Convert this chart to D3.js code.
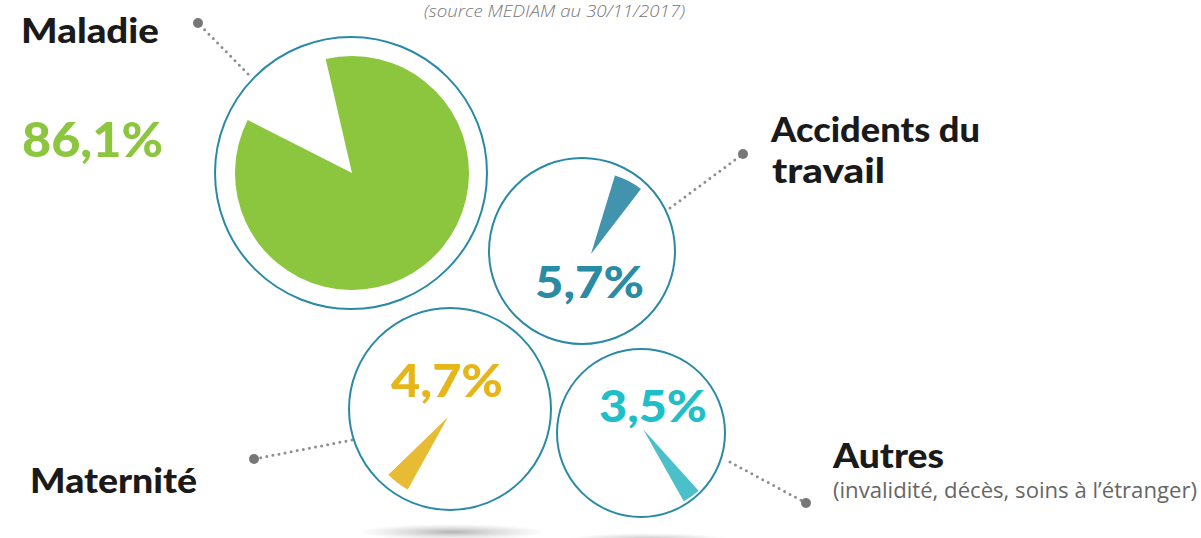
<!DOCTYPE html>
<html>
<head>
<meta charset="utf-8">
<script src="https://cdn.jsdelivr.net/npm/d3@7"></script>
<style>
  body { margin: 0; background: #fff; }
  svg { display: block; }
  .bold { font-family: Lato, "Open Sans", sans-serif; font-weight: 900; }
</style>
</head>
<body>
<div id="chart"></div>
<script>
document.addEventListener("DOMContentLoaded", function () {

    // data
    var categories = ["Maladie", "Accidents du travail", "Maternité", "Autres"];
    var values = [86.1, 5.7, 4.7, 3.5];
    var valueLabels = ["86,1%", "5,7%", "4,7%", "3,5%"];
    var subtitle = "(invalidité, décès, soins à l’étranger)";
    var source = "(source MEDIAM au 30/11/2017)";

    var svgWidth = 1201, svgHeight = 538;

    // layout for each bubble: circle, wedge, label, leader line, name lines
    var layout = [
        { cx: 351, cy: 173, r: 136, px: 352, py: 173, pr: 117, start: -13,
          fill: "#8cc63f", text: "#8cc63f", lx: 22, ly: 157, fs: 47, lw: 141,
          line: [[248, 74], [198, 23]],
          name: [{ t: "Maladie", x: 21, y: 43, w: 138 }] },
        { cx: 582, cy: 251, r: 93, px: 591, py: 254, pr: 82, start: 17,
          fill: "#4193ae", text: "#2a8ba5", lx: 535, ly: 298, fs: 43, lw: 109,
          line: [[670, 208], [743, 154]],
          name: [{ t: "Accidents du", x: 771, y: 142, w: 209 }, { t: "travail", x: 772, y: 183, w: 113 }] },
        { cx: 450, cy: 409, r: 101, px: 448, py: 417, pr: 83, start: 209,
          fill: "#e8bb35", text: "#e6b619", lx: 391, ly: 397, fs: 46, lw: 112,
          line: [[352, 440], [254, 459]],
          name: [{ t: "Maternité", x: 30, y: 493, w: 167 }] },
        { cx: 641, cy: 433, r: 84, px: 643, py: 429, pr: 83, start: 138,
          fill: "#4bc0c8", text: "#1ebfc9", lx: 599, ly: 422, fs: 43, lw: 108,
          line: [[730, 462], [806, 503]],
          name: [{ t: "Autres", x: 833, y: 468, w: 111 }] }
    ];

    var angle = d3.scaleLinear().domain([0, 100]).range([0, 2 * Math.PI]);
    var rad = d3.scaleLinear().domain([0, 360]).range([0, 2 * Math.PI]);

    var svg = d3.select("#chart")
        .append("svg")
        .attr("width", svgWidth)
        .attr("height", svgHeight);

    var defs = svg.append("defs");
    var grad = defs.append("radialGradient").attr("id", "shadow");
    grad.append("stop").attr("offset", "0%").attr("stop-color", "#9a9a9a").attr("stop-opacity", 0.75);
    grad.append("stop").attr("offset", "100%").attr("stop-color", "#bbb").attr("stop-opacity", 0);

    // soft shadows under the two bottom bubbles
    svg.append("ellipse").attr("cx", 452).attr("cy", 532).attr("rx", 95).attr("ry", 8).attr("fill", "url(#shadow)");
    svg.append("ellipse").attr("cx", 648).attr("cy", 540).attr("rx", 85).attr("ry", 7).attr("fill", "url(#shadow)");

    // source note
    svg.append("text")
        .attr("x", 424).attr("y", 17)
        .attr("textLength", 261)
        .attr("lengthAdjust", "spacingAndGlyphs")
        .attr("font-family", "'Open Sans', sans-serif")
        .attr("font-style", "italic")
        .attr("font-weight", 300)
        .attr("font-size", 16)
        .attr("fill", "#777")
        .text(source);

    var arc = d3.arc().innerRadius(0);

    var bubble = svg.selectAll(".bubble")
        .data(values)
        .enter().append("g")
        .attr("class", "bubble");

    // leader lines
    bubble.append("line")
        .attr("x1", (d, i) => layout[i].line[0][0])
        .attr("y1", (d, i) => layout[i].line[0][1])
        .attr("x2", (d, i) => layout[i].line[1][0])
        .attr("y2", (d, i) => layout[i].line[1][1])
        .attr("stroke", "#8f8f8f")
        .attr("stroke-width", 3)
        .attr("stroke-linecap", "round")
        .attr("stroke-dasharray", "0,6.2");

    bubble.append("circle")
        .attr("cx", (d, i) => layout[i].line[1][0])
        .attr("cy", (d, i) => layout[i].line[1][1])
        .attr("r", 5)
        .attr("fill", "#777");

    bubble.append("circle")
        .attr("cx", (d, i) => layout[i].cx)
        .attr("cy", (d, i) => layout[i].cy)
        .attr("r", (d, i) => layout[i].r)
        .attr("fill", "#fff")
        .attr("stroke", "#2a8aa5")
        .attr("stroke-width", 2);

    bubble.append("path")
        .attr("transform", (d, i) => `translate(${layout[i].px},${layout[i].py})`)
        .attr("fill", (d, i) => layout[i].fill)
        .attr("d", function (d, i) {
            var s = rad(layout[i].start);
            return arc.outerRadius(layout[i].pr)({ startAngle: s, endAngle: s + angle(d) });
        });

    bubble.append("text")
        .attr("class", "bold")
        .attr("x", (d, i) => layout[i].lx)
        .attr("y", (d, i) => layout[i].ly)
        .attr("textLength", (d, i) => layout[i].lw)
        .attr("lengthAdjust", "spacingAndGlyphs")
        .attr("font-size", (d, i) => layout[i].fs)
        .attr("fill", (d, i) => layout[i].text)
        .text((d, i) => valueLabels[i]);

    // category names
    layout.forEach(function (l, i) {
        l.name.forEach(function (n) {
            svg.append("text")
                .attr("class", "bold")
                .attr("x", n.x).attr("y", n.y)
                .attr("textLength", n.w)
                .attr("lengthAdjust", "spacingAndGlyphs")
                .attr("font-size", 34)
                .attr("fill", "#1a1a1a")
                .text(n.t);
        });
    });

    svg.append("text")
        .attr("x", 833).attr("y", 498)
        .attr("textLength", 364)
        .attr("lengthAdjust", "spacingAndGlyphs")
        .attr("font-family", "'Open Sans', sans-serif")
        .attr("font-size", 21)
        .attr("fill", "#666")
        .text(subtitle);
});
</script>
</body>
</html>
